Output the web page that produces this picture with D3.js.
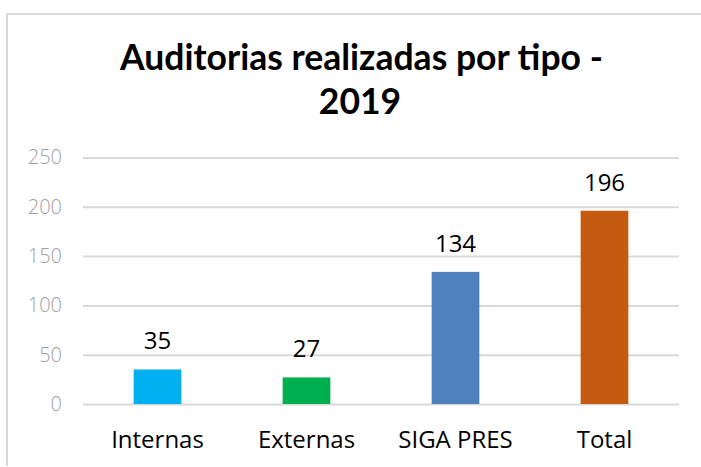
<!DOCTYPE html>
<html>
<head>
<meta charset="utf-8">
<script src="https://cdn.jsdelivr.net/npm/d3@7"></script>
<style>
  html, body { margin: 0; padding: 0; background: #fff; }
  svg { display: block; }
  text { font-family: "Open Sans", "Liberation Sans", sans-serif; }
</style>
</head>
<body>
<svg id="chart" width="701" height="467"></svg>
<script>
const categories = ["Internas", "Externas", "SIGA PRES", "Total"];
const values = [35, 27, 134, 196];
const barColors = ["#00b0f0", "#00b050", "#4f81bd", "#c55a11"];
const yTicks = [0, 50, 100, 150, 200, 250];
const titleLines = ["Auditorias realizadas por tipo -", "2019"];

const svg = d3.select("#chart");
const W = 701, H = 467;
const margin = { left: 83, right: 22, top: 157.5, bottom: 63 };

svg.append("rect").attr("width", W).attr("height", H).attr("fill", "#fff");

// outer frame
svg.append("line").attr("x1", 7).attr("x2", W).attr("y1", 14).attr("y2", 14)
  .attr("stroke", "#d9d9d9").attr("stroke-width", 2);
svg.append("line").attr("x1", 7).attr("x2", 7).attr("y1", 13).attr("y2", 466)
  .attr("stroke", "#d9d9d9").attr("stroke-width", 2);

const x = d3.scaleBand().domain(categories)
  .range([margin.left, W - margin.right]).paddingInner(0.68).paddingOuter(0.34);
const y = d3.scaleLinear().domain([0, 250]).range([H - margin.bottom, margin.top]);

// gridlines
const yAxis = d3.axisLeft(y).tickValues(yTicks).tickSize(-(W - margin.right - margin.left)).tickPadding(21);
const gy = svg.append("g").attr("transform", `translate(${margin.left},0)`).call(yAxis);
gy.select(".domain").remove();
gy.selectAll(".tick line").attr("stroke", "#d9d9d9").attr("stroke-width", 2);
gy.selectAll(".tick text").attr("fill", "#a0a0a0").style("font-size", "20px")
  .style("font-family", "'Open Sans', sans-serif").style("font-weight", 300);

// bars
svg.append("g").selectAll("rect").data(values).join("rect")
  .attr("x", (d, i) => x(categories[i]))
  .attr("width", x.bandwidth())
  .attr("y", d => y(d))
  .attr("height", d => y(0) - y(d))
  .attr("fill", (d, i) => barColors[i]);

// value labels
svg.append("g").selectAll("text").data(values).join("text")
  .attr("x", (d, i) => x(categories[i]) + x.bandwidth() / 2)
  .attr("y", d => y(d) - 20)
  .attr("text-anchor", "middle")
  .attr("fill", "#000")
  .style("font-size", "24px")
  .text(d => d);

// category axis labels
const gx = svg.append("g").attr("transform", `translate(0,${y(0)})`)
  .call(d3.axisBottom(x).tickSize(0).tickPadding(0));
gx.select(".domain").remove();
gx.selectAll(".tick text")
  .attr("y", 44).attr("dy", null)
  .attr("fill", "#000")
  .style("font-size", "24px")
  .style("font-family", "'Open Sans', sans-serif");

// title
const titleG = svg.append("g").style("font-family", "Lato, 'Open Sans', sans-serif");
const t1 = titleG.append("text").attr("x", 361.5).attr("y", 70)
  .attr("text-anchor", "middle").attr("font-weight", "bold")
  .style("font-family", "Lato, 'Open Sans', sans-serif")
  .style("font-size", "30px").attr("fill", "#000").text(titleLines[0]);
const w = t1.node().getComputedTextLength();
const fs = 30 * 483 / w;
t1.style("font-size", fs + "px");
titleG.append("text").attr("x", 360).attr("y", 114)
  .attr("text-anchor", "middle").attr("font-weight", "bold")
  .style("font-family", "Lato, 'Open Sans', sans-serif")
  .style("font-size", fs + "px").attr("fill", "#000").text(titleLines[1]);
</script>
</body>
</html>
